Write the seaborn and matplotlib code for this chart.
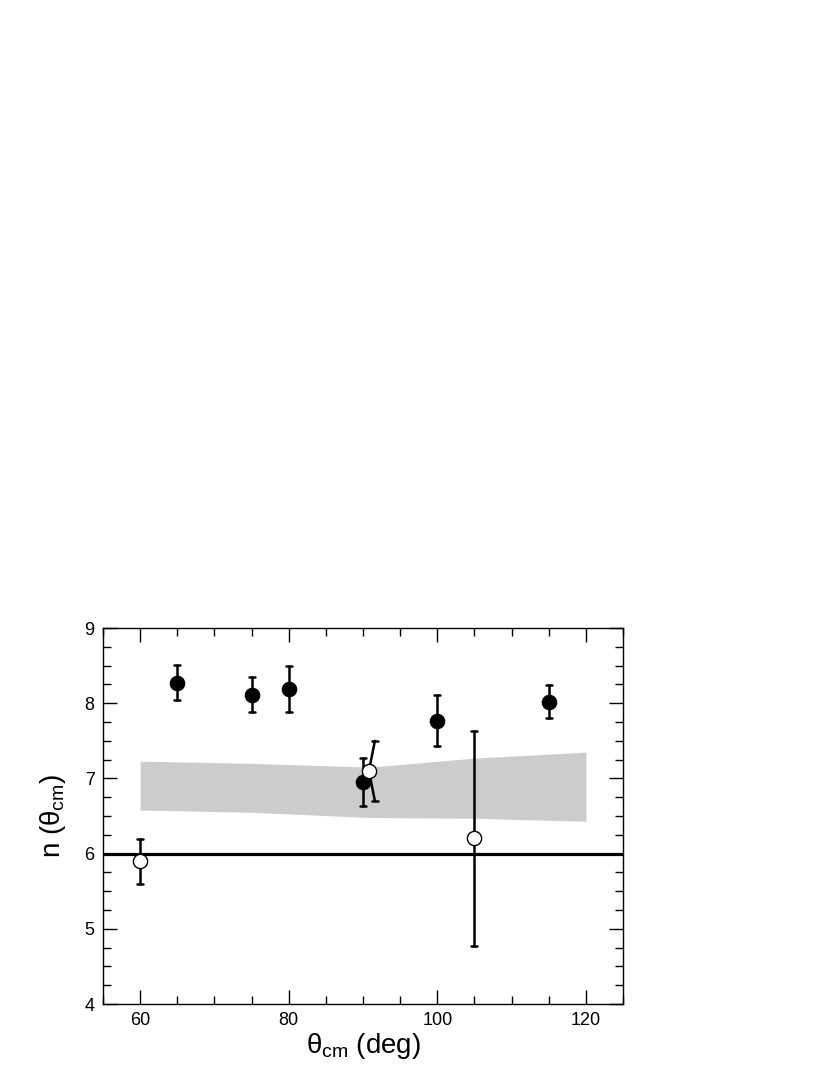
import numpy as np
import pandas as pd
import matplotlib
matplotlib.use("Agg")
import matplotlib.pyplot as plt
from matplotlib.ticker import MultipleLocator
import seaborn as sns

# filled points
theta_filled = [65, 75, 80, 90, 100, 115]
n_filled = [8.27, 8.11, 8.19, 6.95, 7.77, 8.02]
n_filled_hi = [8.51, 8.35, 8.49, 7.27, 8.11, 8.24]
n_filled_lo = [8.04, 7.88, 7.88, 6.63, 7.43, 7.80]

# open points
theta_open = [60, 105]
n_open = [5.90, 6.21]
n_open_hi = [6.20, 7.63]
n_open_lo = [5.60, 4.77]

# the open point near 90 deg with its skewed error bar
theta_skew = 90.8
n_skew = 7.10
theta_skew_caps = 91.6
n_skew_hi = 7.50
n_skew_lo = 6.70

# grey band
band_theta = [60, 75, 91, 105, 120]
band_upper = [7.23, 7.20, 7.15, 7.27, 7.35]
band_lower = [6.58, 6.55, 6.48, 6.47, 6.43]

sns.set_style("ticks")
plt.rcParams["font.family"] = ["Liberation Sans", "DejaVu Sans"]
plt.rcParams["mathtext.fontset"] = "custom"
plt.rcParams["mathtext.rm"] = "Liberation Sans"
plt.rcParams["mathtext.it"] = "Liberation Sans"
plt.rcParams["text.color"] = "black"
plt.rcParams["axes.labelcolor"] = "black"
plt.rcParams["xtick.color"] = "black"
plt.rcParams["ytick.color"] = "black"
plt.rcParams["axes.edgecolor"] = "black"

fig = plt.figure(figsize=(8.3, 10.75), dpi=100)
ax = fig.add_axes([0.1241, 0.066, 0.6265, 0.3498])

ax.fill_between(band_theta, band_lower, band_upper, color="#cccccc", lw=0, zorder=1)
ax.axhline(6, color="black", lw=2.3, zorder=2)

cap = 0.4
lw = 1.8
for x, lo, hi in zip(theta_filled + theta_open, n_filled_lo + n_open_lo,
                     n_filled_hi + n_open_hi):
    ax.plot([x, x], [lo, hi], color="black", lw=lw, zorder=3)
    ax.plot([x - cap, x + cap], [hi, hi], color="black", lw=lw, zorder=3)
    ax.plot([x - cap, x + cap], [lo, lo], color="black", lw=lw, zorder=3)

ax.plot([theta_skew_caps, theta_skew, theta_skew_caps], [n_skew_hi, n_skew, n_skew_lo],
        color="black", lw=lw, zorder=3)
for y in (n_skew_hi, n_skew_lo):
    ax.plot([theta_skew_caps - cap, theta_skew_caps + cap], [y, y], color="black", lw=lw, zorder=3)

df_f = pd.DataFrame({"theta": theta_filled, "n": n_filled})
df_o = pd.DataFrame({"theta": theta_open + [theta_skew], "n": n_open + [n_skew]})
sns.scatterplot(data=df_f, x="theta", y="n", ax=ax, s=105, color="black",
                edgecolor="black", linewidth=1.0, zorder=4)
sns.scatterplot(data=df_o, x="theta", y="n", ax=ax, s=105, color="white",
                edgecolor="black", linewidth=1.0, zorder=4)

ax.set_xlim(55, 125)
ax.set_ylim(4, 9)
ax.xaxis.set_major_locator(MultipleLocator(20))
ax.xaxis.set_minor_locator(MultipleLocator(5))
ax.yaxis.set_major_locator(MultipleLocator(1))
ax.yaxis.set_minor_locator(MultipleLocator(0.25))
ax.tick_params(which="both", direction="in", top=True, right=True, width=1.0,
               labelsize=13, pad=6, colors="black")
ax.tick_params(which="major", length=10)
ax.tick_params(which="minor", length=6)
for s in ax.spines.values():
    s.set_linewidth(1.0)
    s.set_color("black")

ax.set_xlabel(r"$\theta_{\mathrm{cm}}$ (deg)", fontsize=20, labelpad=1)
ax.set_ylabel(r"n ($\theta_{\mathrm{cm}}$)", fontsize=20, labelpad=12)

fig.savefig("out.png", dpi=100)
